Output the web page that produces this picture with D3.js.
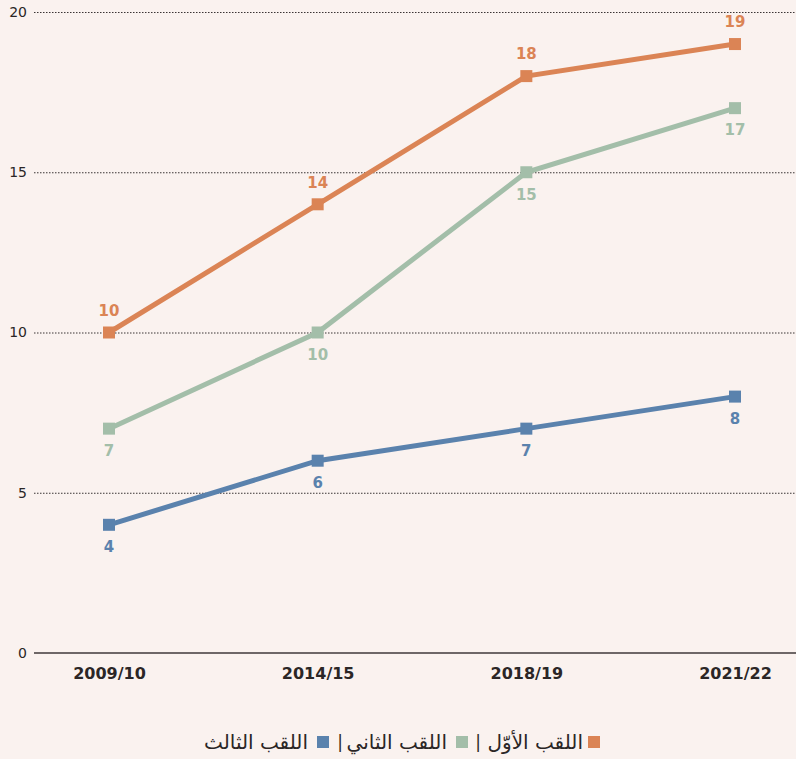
<!DOCTYPE html>
<html lang="ar">
<head>
<meta charset="utf-8">
<script src="https://cdn.jsdelivr.net/npm/d3@7"></script>
<style>
  html, body { margin: 0; padding: 0; background: #faf2ef; }
  svg { display: block; font-family: "DejaVu Sans", "Noto Sans", sans-serif; }
</style>
</head>
<body>
<div id="chart"></div>
<script>
// data
let seasons = ['2009/10', '2014/15', '2018/19', '2021/22'];
let firstPlace = [10, 14, 18, 19];
let secondPlace = [7, 10, 15, 17];
let thirdPlace = [4, 6, 7, 8];
let yTicks = [0, 5, 10, 15, 20];
let seriesNames = ['اللقب الأوّل', 'اللقب الثاني', 'اللقب الثالث'];

// setting dimensions
let width = 796,
  height = 759,
  margin = { top: 12, bottom: 106, left: 34, right: 0 };

let colors = ['#db8455', '#a3bea9', '#5a82ad'];

let series = [
  { name: seriesNames[0], values: firstPlace, color: colors[0], labelPos: [-1, -1, -1, -1] },
  { name: seriesNames[1], values: secondPlace, color: colors[1], labelPos: [1, 1, 1, 1] },
  { name: seriesNames[2], values: thirdPlace, color: colors[2], labelPos: [1, 1, 1, 1] }
];

let svg = d3.select('#chart')
  .append('svg')
    .attr('width', width)
    .attr('height', height)
    .style('background', '#faf2ef');

// scales
let xScale = d3.scalePoint()
  .domain(seasons)
  .range([109, 735]);

let yScale = d3.scaleLinear()
  .domain([0, 20])
  .range([height - margin.bottom, margin.top]);

// grid lines (dotted)
let grid = svg.append('g').attr('class', 'grid');
grid.selectAll('line')
  .data(yTicks.filter(d => d > 0))
  .enter()
  .append('line')
    .attr('x1', margin.left)
    .attr('x2', width - margin.right)
    .attr('y1', d => yScale(d) + 0.5)
    .attr('y2', d => yScale(d) + 0.5)
    .attr('stroke', '#3a3434')
    .attr('stroke-width', 1)
    .attr('stroke-dasharray', '1.5,1.5');

// baseline
svg.append('line')
  .attr('x1', margin.left)
  .attr('x2', width - margin.right)
  .attr('y1', yScale(0))
  .attr('y2', yScale(0))
  .attr('stroke', '#6e6767')
  .attr('stroke-width', 2);

// y labels
let yAxis = d3.axisLeft(yScale).tickValues(yTicks).tickSize(0).tickPadding(6);
let yG = svg.append('g')
  .attr('transform', 'translate(' + (margin.left - 1) + ',0)')
  .call(yAxis);
yG.select('.domain').remove();
yG.selectAll('text')
  .attr('fill', '#2b2626')
  .style('font-family', '"DejaVu Sans", sans-serif')
  .style('font-size', '14px');

// x axis labels
let xAxis = d3.axisBottom(xScale).tickSize(0).tickPadding(15);
let xG = svg.append('g')
  .attr('transform', 'translate(0,' + yScale(0) + ')')
  .call(xAxis);
xG.select('.domain').remove();
xG.selectAll('text')
  .attr('fill', '#2b2626')
  .style('font-family', '"DejaVu Sans", sans-serif')
  .style('font-size', '16px')
  .style('font-weight', 'bold');

// lines
let line = d3.line()
  .x((d, i) => xScale(seasons[i]))
  .y(d => yScale(d));

let groups = svg.selectAll('.series')
  .data(series)
  .enter()
  .append('g')
    .attr('class', 'series');

groups.append('path')
  .attr('d', d => line(d.values))
  .attr('fill', 'none')
  .attr('stroke', d => d.color)
  .attr('stroke-width', 5);

groups.each(function(s) {
  let g = d3.select(this);
  g.selectAll('rect')
    .data(s.values)
    .enter()
    .append('rect')
      .attr('x', (d, i) => xScale(seasons[i]) - 6)
      .attr('y', d => yScale(d) - 6)
      .attr('width', 12)
      .attr('height', 12)
      .attr('fill', s.color);

  g.selectAll('text')
    .data(s.values)
    .enter()
    .append('text')
      .attr('x', (d, i) => xScale(seasons[i]))
      .attr('y', (d, i) => yScale(d) + s.labelPos[i] * 22)
      .attr('dy', '0.35em')
      .attr('text-anchor', 'middle')
      .attr('fill', s.color)
      .style('font-family', '"DejaVu Sans", sans-serif')
      .style('font-size', '15px')
      .style('font-weight', 'bold')
      .text(d => d);
});

// legend (right to left)
let legendY = 742;
let legend = svg.append('g').attr('class', 'legend')
  .style('font-family', '"DejaVu Sans", "Noto Sans", sans-serif')
  .style('font-size', '20px');

let legendItems = [
  { sq: 594, textEnd: 583, pipe: 478 },
  { sq: 462, textEnd: 447, pipe: 340 },
  { sq: 323, textEnd: 308, pipe: null }
];

legendItems.forEach((p, i) => {
  legend.append('rect')
    .attr('x', p.sq - 6)
    .attr('y', legendY - 6)
    .attr('width', 12)
    .attr('height', 12)
    .attr('fill', series[i].color);
  legend.append('text')
    .attr('x', p.textEnd)
    .attr('y', legendY)
    .attr('dy', '0.35em')
    .attr('text-anchor', 'end')
    .attr('fill', '#2b2626')
    .text(series[i].name);
  if (p.pipe !== null) {
    legend.append('text')
      .attr('x', p.pipe)
      .attr('y', legendY)
      .attr('dy', '0.35em')
      .attr('text-anchor', 'middle')
      .attr('fill', '#2b2626')
      .style('font-size', '17px')
      .text('|');
  }
});
</script>
</body>
</html>
